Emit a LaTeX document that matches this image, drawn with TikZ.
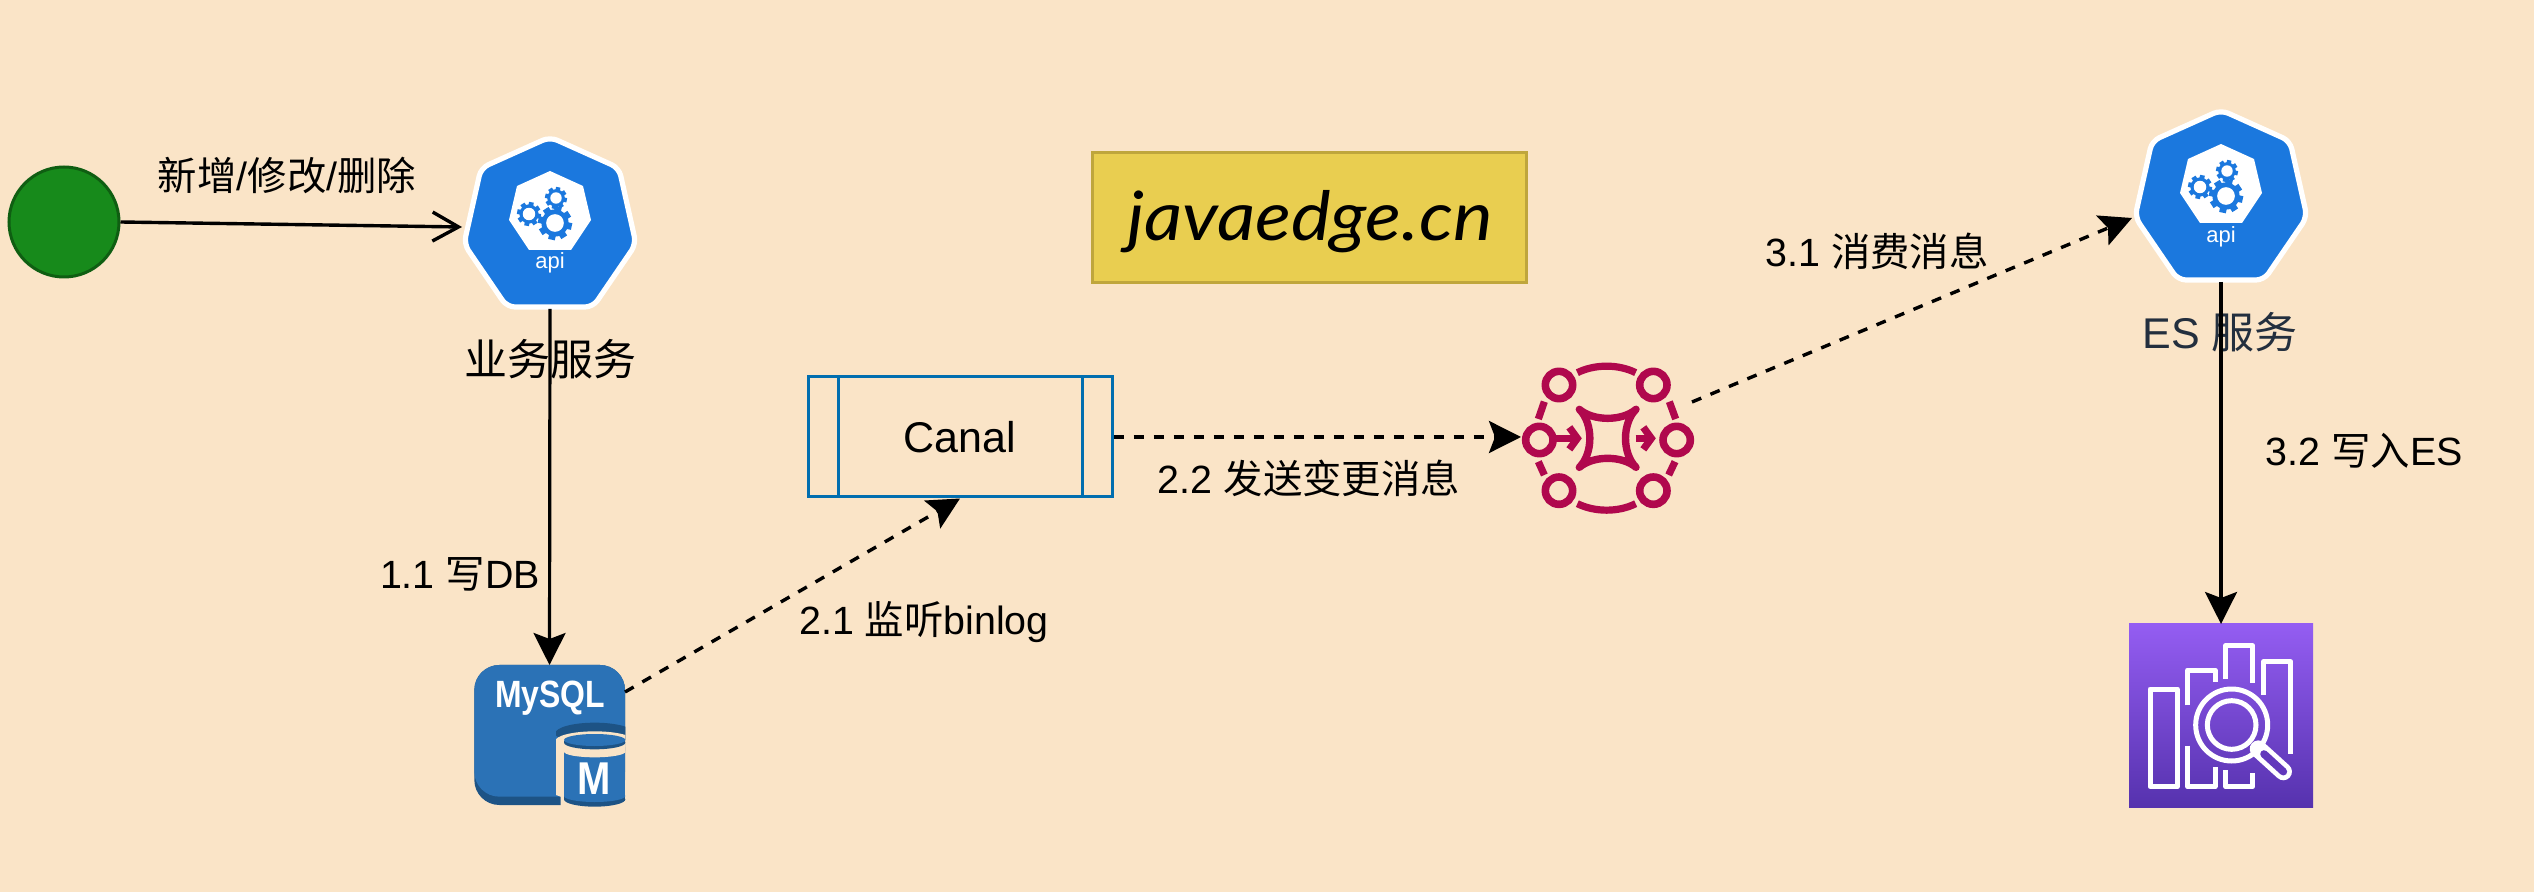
\documentclass[tikz,border=0pt]{standalone}
\usepackage{fontspec}
\setmainfont{Liberation Sans}
\newfontfamily\cjk{Noto Sans CJK SC}
\newfontfamily\handf{Lato}
\usetikzlibrary{arrows.meta}
\definecolor{pagebg}{HTML}{FAE4C7}
\definecolor{kblue}{HTML}{1B78DE}
\definecolor{canalblue}{HTML}{006EAF}
\definecolor{dotfill}{HTML}{178A1B}
\definecolor{dotline}{HTML}{0F5E12}
\definecolor{boxfill}{HTML}{E9CE50}
\definecolor{boxline}{HTML}{BFA63C}
\definecolor{sqlmain}{HTML}{2B72B6}
\definecolor{sqldark}{HTML}{1D5385}
\definecolor{kafkared}{HTML}{B0084D}
\definecolor{esTop}{HTML}{945DF2}
\definecolor{esBot}{HTML}{5632AE}
\definecolor{esMid}{HTML}{6238BC}
\definecolor{esLabel}{HTML}{232F3E}
\tikzset{
  lbl/.style={inner sep=0pt,font=\fontsize{19.7}{23}\selectfont},
  biglbl/.style={inner sep=0pt,font=\fontsize{21.5}{25}\selectfont},
  solidflow/.style={line width=1.6pt,black,-{Stealth[length=16pt,width=16pt,inset=3pt]}},
  dashflow/.style={line width=1.7pt,black,dash pattern=on 5pt off 5pt,-{Stealth[length=16pt,width=16pt,inset=3pt]}},
  openflow/.style={line width=1.7pt,black,-{Straight Barb[length=13pt,width=14.5pt,line width=1.7pt]}},
  ghost/.style={inner sep=0pt,outer sep=0pt,draw=none,fill=none},
  krd/.style={kafkared,line width=3.6pt,line cap=butt},
  eswhite/.style={white,line width=2.5pt,line join=round,fill=none},
}
\newcommand\kgear[3]{%
  \begin{scope}[shift={(#1,#2)}]
    \foreach \a in {0,45,...,315}{\draw[kblue,line width=#3*0.2pt] (\a+12:#3*0.6) -- (\a+12:#3);}
    \fill[kblue] (0,0) circle[radius=#3*0.8];
    \fill[white] (0,0) circle[radius=#3*0.52];
  \end{scope}}
\newcommand\apiicon[2]{%
  \begin{scope}[shift={(#1,#2)}]
    \filldraw[fill=kblue,draw=white,line width=2.6pt,rounded corners=4pt]
      (0,0) -- (69,31) -- (86,107) -- (43,170) -- (-43,170) -- (-86,107) -- (-69,31) -- cycle;
    \fill[white] (0,34) -- (33,49) -- (41,83) -- (21,113) -- (-21,113) -- (-41,83) -- (-33,49) -- cycle;
    \kgear{5}{86}{17}
    \kgear{-21}{77}{12}
    \kgear{6}{61}{11}
  \end{scope}}
\begin{document}
\begin{tikzpicture}[x=0.5pt,y=-0.5pt]
\useasboundingbox (0,0) rectangle (2534,892);
\fill[pagebg] (0,0) rectangle (2534,892);

% ---- named places of the icons
\node[ghost,minimum width=176pt*0.5,minimum height=172pt*0.5] (bizapi) at (550,223) {};
\node[ghost,minimum width=176pt*0.5,minimum height=172pt*0.5] (esapi) at (2221,196) {};
\node[ghost,minimum width=151pt*0.5,minimum height=140pt*0.5] (mysql) at (549.5,735) {};
\node[ghost,minimum width=174pt*0.5,minimum height=154pt*0.5] (kafka) at (1608,437) {};
\node[ghost,minimum width=184pt*0.5,minimum height=183pt*0.5] (search) at (2221,715.5) {};
\coordinate (bizin) at (462,227);
\coordinate (mysqlout) at (625,692);
\coordinate (kafkaout) at (1692,402);
\coordinate (esin) at (2132,218);

% ---- user dot
\node[circle,draw=dotline,fill=dotfill,line width=1.5pt,minimum size=55pt,inner sep=0pt] (user) at (64,222) {};

% ---- api icons
\apiicon{550}{137}
\node[inner sep=0pt,white,font=\fontsize{11}{13}\selectfont] (bizapitext) at (550,263) {api};
\apiicon{2221}{110}
\node[inner sep=0pt,white,font=\fontsize{11}{13}\selectfont] (esapitext) at (2221,237) {api};

% ---- MySQL
\begin{scope}[x=0.16667pt,y=-0.16667pt,shift={(220pt,-320pt)}]
  \fill[sqldark,rounded corners=12.5pt] (103,75) rectangle (555,495);
  \fill[sqlmain,rounded corners=12.5pt] (103,75) rectangle (555,470);
  \begin{scope}
    \clip (348,200) rectangle (556,510);
    \fill[sqldark] (464,280) ellipse[x radius=118,y radius=32];
    \fill[pagebg] (464,303) ellipse[x radius=118,y radius=29];
    \fill[pagebg] (346,300) -- (582,300) -- (582,510) -- (362,510) -- (362,470) -- (348,465) -- cycle;
  \end{scope}
  % small cylinder
  \fill[sqldark] (372,345) rectangle (556,478);
  \fill[sqldark] (464,478) ellipse[x radius=92,y radius=22];
  \fill[sqlmain] (372,335) rectangle (556,468);
  \fill[sqlmain] (464,468) ellipse[x radius=92,y radius=18];
  \fill[pagebg] (464,335) ellipse[x radius=92,y radius=17];
  \fill[sqldark] (372,303) rectangle (556,308);
  \fill[sqldark] (464,308) ellipse[x radius=92,y radius=20];
  \fill[sqlmain] (464,300) ellipse[x radius=92,y radius=18];
  \node[inner sep=0pt,white,font=\fontsize{19}{22}\bfseries\selectfont,xscale=0.84,transform shape] (mysqltext) at (331,175) {MySQL};
  \node[inner sep=0pt,white,font=\fontsize{23}{26}\bfseries\selectfont,xscale=0.87,transform shape] (mtext) at (463,415) {M};
\end{scope}

% ---- Kafka / message bus icon
\begin{scope}[x=0.16667pt,y=-0.16667pt,shift={(740pt,-170pt)}]
  \foreach \cx/\cy in {237/135,520/135,178/300,590/300,237/452,520/452}
    \draw[kafkared,line width=3.8pt] (\cx,\cy) circle[radius=41];
  \draw[krd] (292,98) .. controls (345,72) and (415,72) .. (467,98);
  \draw[krd] (292,491) .. controls (345,517) and (415,517) .. (467,491);
  \draw[krd] (193,185) -- (175,237);
  \draw[krd] (568,185) -- (587,237);
  \draw[krd] (175,365) -- (193,405);
  \draw[krd] (585,365) -- (566,405);
  \draw[kafkared,line width=3.7pt,line cap=round,line join=round] (298,208) .. controls (340,244) and (426,244) .. (468,208)
     .. controls (426,250) and (426,340) .. (468,382) .. controls (426,346) and (340,346) .. (298,382)
     .. controls (340,340) and (340,250) .. (298,208) -- cycle;
  \draw[kafkared,line width=3.6pt] (215,295) -- (285,295);
  \draw[kafkared,line width=3.6pt,line join=miter] (268,262) -- (292,295) -- (268,328);
  \draw[kafkared,line width=3.6pt] (467,295) -- (505,295);
  \draw[kafkared,line width=3.6pt,line join=miter] (490,262) -- (514,295) -- (490,328);
\end{scope}

% ---- search icon
\shade[top color=esTop,bottom color=esBot] (2129,624) rectangle (2313,807);
\begin{scope}[x=0.16667pt,y=-0.16667pt,shift={(1050pt,-300pt)}]
  \draw[eswhite] (150,267) rectangle (232,560);
  \draw[eswhite] (263,316) -- (263,210) -- (345,210) -- (345,245);
  \draw[eswhite] (263,437) -- (263,560) -- (345,560) -- (345,500);
  \draw[eswhite] (377,237) -- (377,137) -- (458,137) -- (458,250);
  \draw[eswhite] (377,510) -- (377,560) -- (458,560) -- (458,518);
  \draw[eswhite] (491,285) -- (491,185) -- (572,185) -- (572,462);
  \draw[white,line width=8.6pt,line cap=round] (475,447) -- (550,515);
  \draw[esMid,line width=3.8pt,line cap=round] (492,462) -- (550,515);
  \draw[eswhite] (395,375) circle[radius=108];
  \draw[eswhite] (395,375) circle[radius=73];
\end{scope}

% ---- boxes
\node[rectangle,draw=boxline,fill=boxfill,line width=1.5pt,minimum width=217pt,minimum height=65pt,inner sep=0pt] (brand) at (1309.5,218) {};
\node[inner sep=0pt,font=\handf\itshape\fontsize{34}{38}\selectfont,xscale=1.1] (brandtext) at (1310,222) {javaedge.cn};
\node[rectangle,draw=canalblue,line width=1.5pt,minimum width=152pt,minimum height=60pt,inner sep=0pt,font=\fontsize{21.5}{25}\selectfont] (canal) at (960,437) {\raisebox{-1.2pt}{Canal}};
\draw[canalblue,line width=1.5pt] (838,377) -- (838,497);
\draw[canalblue,line width=1.5pt] (1082,377) -- (1082,497);

% ---- labels
\node[lbl] (l0) at (287,175) {{\cjk 新增}/{\cjk 修改}/{\cjk 删除}};
\node[biglbl] (l1) at (550,359) {\cjk 业务服务};
\node[biglbl,text=esLabel] (l2) at (2220,332) {ES {\cjk 服务}};
\node[lbl] (l3) at (460,574) {1.1 {\cjk 写}DB};
\node[lbl] (l4) at (924,622) {2.1 {\cjk 监听}binlog};
\node[lbl] (l5) at (1309,478) {2.2 {\cjk 发送变更消息}};
\node[lbl] (l6) at (1877,251) {3.1 {\cjk 消费消息}};
\node[lbl] (l7) at (2364,451) {3.2 {\cjk 写入}ES};

% ---- connectors
\draw[openflow] (user.east) -- (bizin);
\draw[solidflow] (bizapi.south) -- (mysql.north);
\draw[dashflow] (mysqlout) -- (canal.south);
\draw[dashflow] (canal.east) -- (kafka.west);
\draw[dashflow] (kafkaout) -- (esin);
\draw[solidflow] (esapi.south) -- (search.north);
\end{tikzpicture}
\end{document}
